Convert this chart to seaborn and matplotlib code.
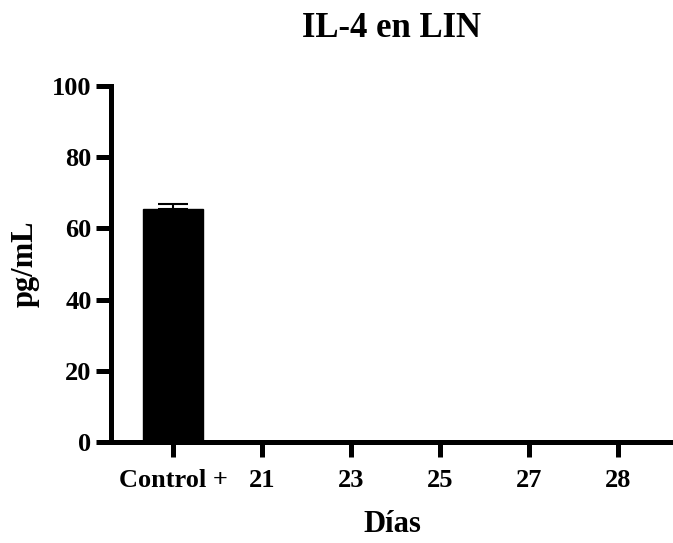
import pandas as pd
import matplotlib
matplotlib.use("Agg")
import matplotlib.pyplot as plt
import seaborn as sns

# data
dias = ['Control +', '21', '23', '25', '27', '28']
pg_ml = [65.5, 0, 0, 0, 0, 0]
sem = [1.3, 0, 0, 0, 0, 0]

df = pd.DataFrame({'dia': dias, 'pg': pg_ml})

sns.set_style('ticks')
plt.rcParams['font.family'] = ['Liberation Serif', 'DejaVu Serif']
plt.rcParams['font.weight'] = 'bold'
plt.rcParams['text.color'] = 'black'
plt.rcParams['axes.labelcolor'] = 'black'
plt.rcParams['xtick.color'] = 'black'
plt.rcParams['ytick.color'] = 'black'
plt.rcParams['axes.edgecolor'] = 'black'

fig = plt.figure(figsize=(6.73, 5.43), dpi=100)
ax = fig.add_axes([0.165, 0.186, 0.835, 0.656])

sns.barplot(data=df, x='dia', y='pg', color='black', width=0.67,
            edgecolor='black', saturation=1, ax=ax)

# upper error bar only
ax.errorbar(x=[0], y=[pg_ml[0]], yerr=[[0], [sem[0]]], fmt='none',
            ecolor='black', elinewidth=1.5, capsize=11, capthick=1.5)

ax.set_ylim(0, 100)
ax.set_yticks([0, 20, 40, 60, 80, 100])
ax.set_xlim(-0.7, 5.62)

for side in ['top', 'right']:
    ax.spines[side].set_visible(False)
for side in ['left', 'bottom']:
    ax.spines[side].set_linewidth(3.6)
    ax.spines[side].set_color('black')

ax.tick_params(axis='both', width=3.6, length=11, labelsize=19, colors='black')
ax.tick_params(axis='x', pad=8.7)
ax.tick_params(axis='y', pad=3)
for lab in ax.get_xticklabels() + ax.get_yticklabels():
    lab.set_fontweight('bold')

ax.set_xlabel('Días', fontsize=22, fontweight='bold', labelpad=13)
ax.set_ylabel('pg/mL', fontsize=22, fontweight='bold', labelpad=9)
ax.set_title('IL-4 en LIN', fontsize=25, fontweight='bold', pad=35)

fig.savefig('out.png', dpi=100)
